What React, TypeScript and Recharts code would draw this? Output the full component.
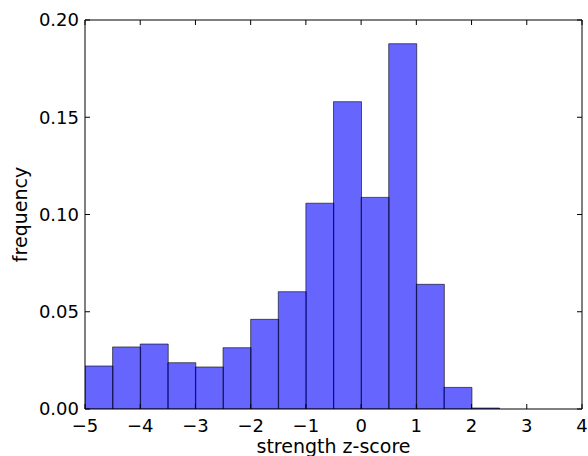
import { BarChart, Bar, XAxis, YAxis } from 'recharts'

// histogram bins (centre of each 0.5-wide bin)
const binCenters = [
  -4.75, -4.25, -3.75, -3.25, -2.75, -2.25, -1.75, -1.25, -0.75,
  -0.25, 0.25, 0.75, 1.25, 1.75, 2.25, 2.75, 3.25, 3.75,
]
const frequency = [
  0.0221, 0.0319, 0.0334, 0.0238, 0.0216, 0.0315, 0.0461, 0.0603, 0.1058,
  0.158, 0.1088, 0.1878, 0.0641, 0.0111, 0.0005, 0, 0, 0,
]

const xTicks = [-5, -4, -3, -2, -1, 0, 1, 2, 3, 4]
const yTicks = [0, 0.05, 0.1, 0.15, 0.2]

const FONT = '"DejaVu Sans", sans-serif'

const data = binCenters.map((c, i) => ({ mid: c, frequency: frequency[i] }))

const fmtX = (v: number) => (v < 0 ? `\u2212${Math.abs(v)}` : `${v}`)
const fmtY = (v: number) => v.toFixed(2)
const blank = () => ''

export default function App() {
  const tickStyle = { fontSize: 18, fill: '#000', fontFamily: FONT }
  const labelStyle = { fontSize: 19, fill: '#000', fontFamily: FONT, textAnchor: 'middle' as const }
  const line = { stroke: '#000' }

  return (
    <div style={{ position: 'absolute', left: 0, top: 0, background: '#fff' }}>
      <BarChart
        width={588}
        height={456}
        data={data}
        margin={{ top: 19, right: 5, bottom: 0, left: 0 }}
        barCategoryGap={0}
        barGap={0}
      >
        <XAxis
          xAxisId="x"
          dataKey="mid"
          type="number"
          domain={[-5, 4]}
          ticks={xTicks}
          allowDataOverflow
          height={47}
          tickFormatter={fmtX}
          tick={tickStyle}
          tickSize={-5}
          tickMargin={15}
          axisLine={line}
          tickLine={line}
          label={{ value: 'strength z-score', position: 'insideBottom', offset: 3, style: labelStyle }}
        />
        <XAxis
          xAxisId="top"
          dataKey="mid"
          orientation="top"
          type="number"
          domain={[-5, 4]}
          ticks={xTicks}
          allowDataOverflow
          height={1}
          tickFormatter={blank}
          tickSize={-5}
          axisLine={line}
          tickLine={line}
        />
        <YAxis
          yAxisId="left"
          domain={[0, 0.2]}
          ticks={yTicks}
          allowDataOverflow
          width={85}
          tickFormatter={fmtY}
          tick={tickStyle}
          tickSize={-5}
          tickMargin={11}
          axisLine={line}
          tickLine={line}
          label={{ value: 'frequency', angle: -90, position: 'insideLeft', offset: 20, style: labelStyle }}
        />
        <YAxis
          yAxisId="right"
          orientation="right"
          domain={[0, 0.2]}
          ticks={yTicks}
          allowDataOverflow
          width={1}
          tickFormatter={blank}
          tickSize={-5}
          axisLine={line}
          tickLine={line}
        />
        <Bar
          xAxisId="x"
          yAxisId="left"
          dataKey="frequency"
          fill="#0000ff"
          fillOpacity={0.6}
          stroke="#000"
          strokeOpacity={0.6}
          strokeWidth={1}
          isAnimationActive={false}
        />
        {/* invisible series so the top / right frame axes get their scales */}
        <Bar
          xAxisId="top"
          yAxisId="right"
          dataKey="frequency"
          fill="none"
          stroke="none"
          legendType="none"
          isAnimationActive={false}
        />
      </BarChart>
    </div>
  )
}
